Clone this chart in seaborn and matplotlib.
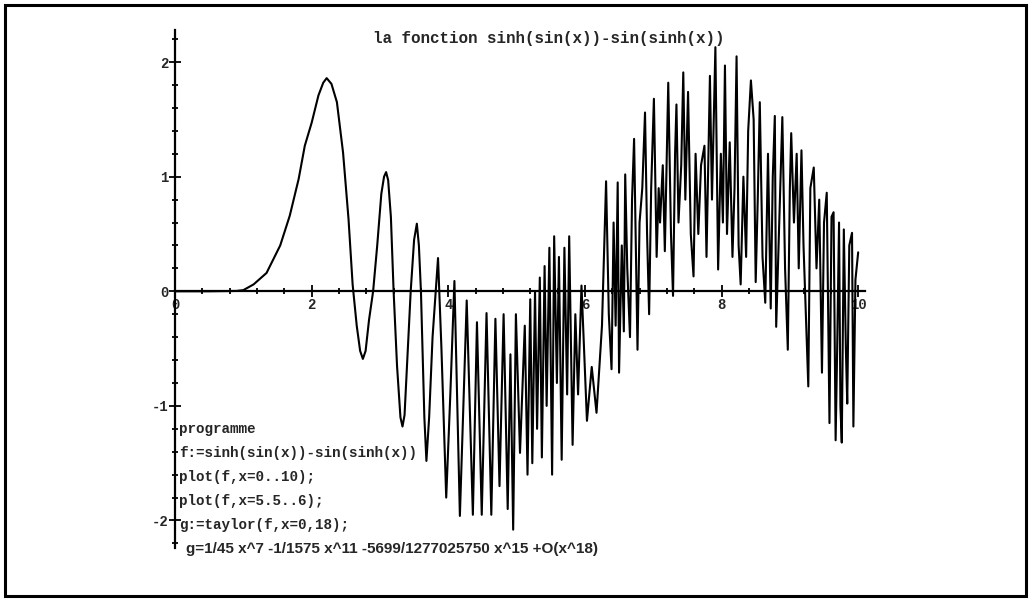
import numpy as np
import pandas as pd
import seaborn as sns
import matplotlib.pyplot as plt
from matplotlib.ticker import MultipleLocator
from matplotlib.patches import Rectangle

# curve vertices (x, y)
x_vals = [0, 0.5, 0.9, 1.0, 1.15, 1.34, 1.54, 1.68, 1.81, 1.9, 2.0, 2.1, 2.17, 2.22, 2.29,
          2.37, 2.46, 2.54, 2.6, 2.66, 2.71, 2.75, 2.79, 2.84, 2.9, 2.96, 3.02, 3.06, 3.09,
          3.12, 3.16, 3.2, 3.25, 3.3, 3.33, 3.36, 3.4, 3.45, 3.5, 3.54, 3.57, 3.6, 3.65,
          3.68, 3.72, 3.77, 3.85, 3.9, 3.97, 4.03, 4.09, 4.17, 4.27, 4.36, 4.42, 4.49,
          4.56, 4.63, 4.69, 4.75, 4.81, 4.87, 4.91, 4.95, 4.99, 5.05, 5.12, 5.16, 5.2, 5.23,
          5.27, 5.3, 5.34, 5.37, 5.41, 5.44, 5.48, 5.52, 5.55, 5.59, 5.62, 5.66, 5.7, 5.74,
          5.77, 5.82, 5.86, 5.9, 5.95, 6.03, 6.1, 6.17, 6.25, 6.31, 6.35, 6.39, 6.42, 6.45,
          6.48, 6.5, 6.54, 6.57, 6.59, 6.62, 6.66, 6.69, 6.72, 6.75, 6.77, 6.8, 6.84, 6.88,
          6.91, 6.94, 6.97, 7.01, 7.05, 7.08, 7.1, 7.14, 7.17, 7.22, 7.26, 7.29, 7.32, 7.34,
          7.37, 7.41, 7.44, 7.47, 7.51, 7.55, 7.59, 7.62, 7.66, 7.7, 7.75, 7.78, 7.83, 7.86,
          7.91, 7.95, 7.99, 8.02, 8.05, 8.08, 8.12, 8.16, 8.19, 8.22, 8.25, 8.28, 8.32, 8.36,
          8.39, 8.43, 8.47, 8.5, 8.53, 8.56, 8.6, 8.64, 8.68, 8.72, 8.75, 8.78, 8.8, 8.84,
          8.89, 8.93, 8.97, 9.0, 9.02, 9.06, 9.1, 9.13, 9.17, 9.2, 9.24, 9.27, 9.3, 9.35,
          9.39, 9.43, 9.47, 9.5, 9.54, 9.58, 9.61, 9.64, 9.67, 9.69, 9.72, 9.74, 9.76, 9.79,
          9.82, 9.84, 9.87, 9.91, 9.93, 9.96, 10.0]
y_vals = [0, 0, 0.003, 0.01, 0.06, 0.16, 0.4, 0.66, 0.98, 1.27, 1.47, 1.71, 1.82, 1.86, 1.81,
          1.65, 1.21, 0.63, 0.06, -0.3, -0.52, -0.59, -0.52, -0.25, 0.0, 0.4, 0.85, 1.0, 1.04,
          0.97, 0.65, 0.0, -0.65, -1.1, -1.18, -1.08, -0.6, 0.0, 0.45, 0.59, 0.4, 0.0, -1.1,
          -1.48, -1.1, -0.4, 0.29, -0.5, -1.8, -0.9, 0.09, -1.96, -0.08, -1.95, -0.27, -1.95,
          -0.19, -1.95, -0.24, -1.7, -0.2, -1.9, -0.55, -2.08, -0.2, -1.41, -0.3, -1.6, -0.07, -1.5,
          0.0, -1.2, 0.12, -1.45, 0.22, -1.0, 0.38, -1.6, 0.48, -0.8, 0.3, -1.47, 0.38, -0.9,
          0.48, -1.34, -0.2, -0.9, 0.05, -1.13, -0.66, -1.06, -0.3, 0.96, -0.2, -0.68, 0.6, -0.3,
          0.95, -0.71, 0.4, -0.35, 1.02, 0.2, -0.4, 0.8, 1.33, 0.2, -0.51, 0.6, 0.9, 1.56,
          0.5, -0.2, 0.9, 1.68, 0.3, 0.9, 0.6, 1.1, 0.35, 1.82, 0.5, -0.04, 1.2, 1.63,
          0.6, 1.1, 1.91, 0.8, 1.74, 0.5, 0.13, 1.2, 0.5, 1.1, 1.27, 0.3, 1.88, 0.8,
          2.13, 0.19, 1.2, 0.6, 1.97, 0.5, 1.3, 0.3, 0.9, 2.05, 0.4, 0.06, 1.0, 0.3,
          1.4, 1.84, 1.5, 0.08, 0.8, 1.65, 0.3, -0.1, 1.2, -0.15, 1.0, 1.53, -0.31, 0.5,
          1.52, 0.2, -0.51, 0.9, 1.38, 0.6, 1.2, 0.2, 1.23, 0.4, -0.3, -0.83, 0.9, 1.08,
          0.2, 0.8, -0.71, 0.6, 0.86, -1.15, 0.65, 0.69, -1.3, -0.6, 0.6, -1.0, -1.32, 0.54,
          -0.5, -0.98, 0.4, 0.51, -1.18, 0.1, 0.34]

title_text = "la fonction sinh(sin(x))-sin(sinh(x))"
prog_lines = ["programme",
              "f:=sinh(sin(x))-sin(sinh(x))",
              "plot(f,x=0..10);",
              "plot(f,x=5.5..6);",
              "g:=taylor(f,x=0,18);"]
taylor_line = "g=1/45 x^7 -1/1575 x^11 -5699/1277025750 x^15 +O(x^18)"
x_ticks = [0, 2, 4, 6, 8, 10]
y_ticks = [-2, -1, 0, 1, 2]

df = pd.DataFrame({"x": x_vals, "y": y_vals})

sns.set_style("white")
plt.rcParams['font.family'] = ['Liberation Mono', 'DejaVu Sans']

fig = plt.figure(figsize=(10.3, 6), dpi=100)
ax = fig.add_axes([175 / 1030, 52 / 600, 690 / 1030, 518 / 600])

sns.lineplot(data=df, x="x", y="y", sort=False, estimator=None, color="black",
             linewidth=1.5, ax=ax)

ax.set_xlim(0, 10.1)
ax.set_ylim(-2.24, 2.28)
ax.set_xlabel("")
ax.set_ylabel("")

for s in ["top", "right"]:
    ax.spines[s].set_visible(False)
for s in ["left", "bottom"]:
    ax.spines[s].set_position(("data", 0))
    ax.spines[s].set_linewidth(1.6)
    ax.spines[s].set_color("black")

ax.set_xticks(x_ticks)
ax.set_yticks(y_ticks)
ax.set_xticklabels([str(t) for t in x_ticks])
ax.set_yticklabels([str(t) for t in y_ticks])
ax.xaxis.set_minor_locator(MultipleLocator(0.4))
ax.yaxis.set_minor_locator(MultipleLocator(0.2))
ax.tick_params(which="both", bottom=True, left=True, direction="inout",
               color="black", width=1.3)
ax.tick_params(which="major", length=9, labelsize=10, pad=0)
ax.tick_params(which="minor", length=5)
for lab in ax.get_xticklabels() + ax.get_yticklabels():
    lab.set_fontweight("bold")

fig.text(549 / 1030, 1 - 38 / 600, title_text, ha="center", va="center",
         fontsize=11.4, fontweight="bold")

line_y = [429, 453, 477, 501, 525]
for txt, py in zip(prog_lines, line_y):
    fig.text(179 / 1030, 1 - py / 600, txt, ha="left", va="center",
             fontsize=10.3, fontweight="bold")
fig.text(186 / 1030, 1 - 549 / 600, taylor_line, ha="left", va="center",
         fontsize=11.0, fontweight="bold", family=["Liberation Sans", "DejaVu Sans"])

fig.patches.append(Rectangle((5 / 1030, 4 / 600), 1021 / 1030, 591 / 600,
                             transform=fig.transFigure, fill=False,
                             edgecolor="black", linewidth=2.2))

fig.savefig("out.png", dpi=100)
